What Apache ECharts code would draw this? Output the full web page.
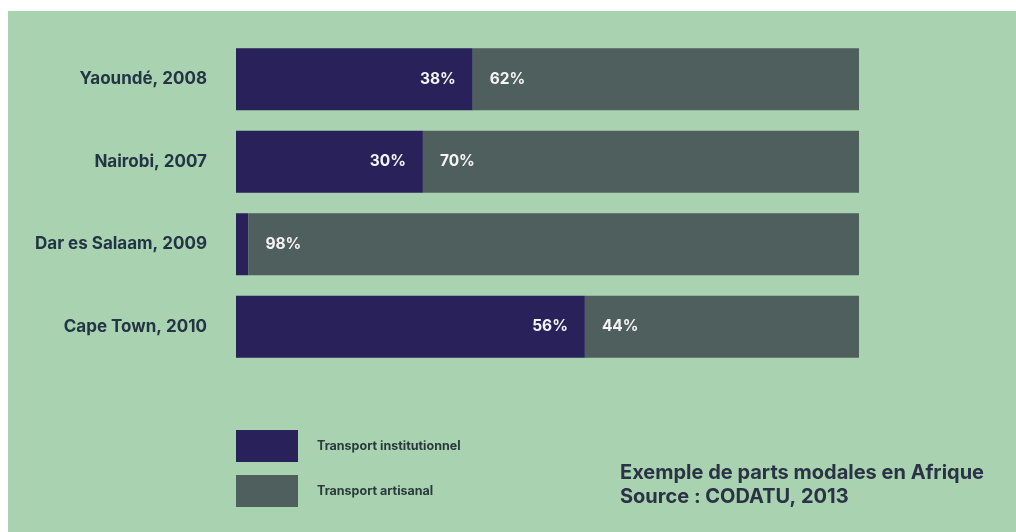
<!DOCTYPE html>
<html>
<head>
<meta charset="utf-8">
<script src="https://cdn.jsdelivr.net/npm/echarts@6/dist/echarts.min.js"></script>
<style>
html,body{margin:0;padding:0;background:#ffffff;}
#c{width:1016px;height:532px;}
</style>
</head>
<body>
<div id="c"></div>
<script>
const categories = ['Yaoundé, 2008', 'Nairobi, 2007', 'Dar es Salaam, 2009', 'Cape Town, 2010'];
const institutionnel = [38, 30, 2, 56];
const artisanal = [62, 70, 98, 44];
const seriesNames = ['Transport institutionnel', 'Transport artisanal'];
const titleLines = ['Exemple de parts modales en Afrique', 'Source : CODATU, 2013'];

const chart = echarts.init(document.getElementById('c'), null, {renderer: 'canvas'});
const FONT = 'Inter';
chart.setOption({
  backgroundColor: '#ffffff',
  animation: false,
  graphic: [{
    type: 'rect', z: -10, silent: true,
    shape: {x: 8, y: 11, width: 1008, height: 521},
    style: {fill: '#a8d2b0'}
  }],
  title: {
    text: titleLines.join('\n'),
    left: 615, top: 456,
    textStyle: {fontFamily: FONT, fontSize: 20, fontWeight: 'bold', color: '#2b3245', lineHeight: 24}
  },
  legend: {
    orient: 'vertical', left: 231, top: 425,
    itemWidth: 62, itemHeight: 32, itemGap: 13,
    icon: 'rect',
    data: seriesNames,
    textStyle: {fontFamily: FONT, fontSize: 12.5, fontWeight: 'bold', color: '#2a3a3c', padding: [0, 0, 0, 14]}
  },
  grid: {left: 236, right: 157, top: 38, height: 330, containLabel: false},
  xAxis: {type: 'value', min: 0, max: 100, show: false},
  yAxis: {
    type: 'category', data: categories, inverse: true,
    axisLine: {show: false}, axisTick: {show: false}, splitLine: {show: false},
    axisLabel: {fontFamily: FONT, fontSize: 17, fontWeight: 'bold', color: '#233445', margin: 29}
  },
  series: [
    {
      name: seriesNames[0], type: 'bar', stack: 'total', barWidth: 62,
      itemStyle: {color: '#28215a'},
      label: {
        show: true, position: 'insideRight', distance: 17,
        formatter: p => p.value >= 10 ? p.value + '%' : '',
        fontFamily: FONT, fontSize: 15.5, fontWeight: 'bold', color: '#f4f4f4'
      },
      data: institutionnel
    },
    {
      name: seriesNames[1], type: 'bar', stack: 'total', barWidth: 62,
      itemStyle: {color: '#4f5f5e'},
      label: {
        show: true, position: 'insideLeft', distance: 17,
        formatter: p => p.value + '%',
        fontFamily: FONT, fontSize: 15.5, fontWeight: 'bold', color: '#f4f4f4'
      },
      data: artisanal
    }
  ]
});
</script>
</body>
</html>
